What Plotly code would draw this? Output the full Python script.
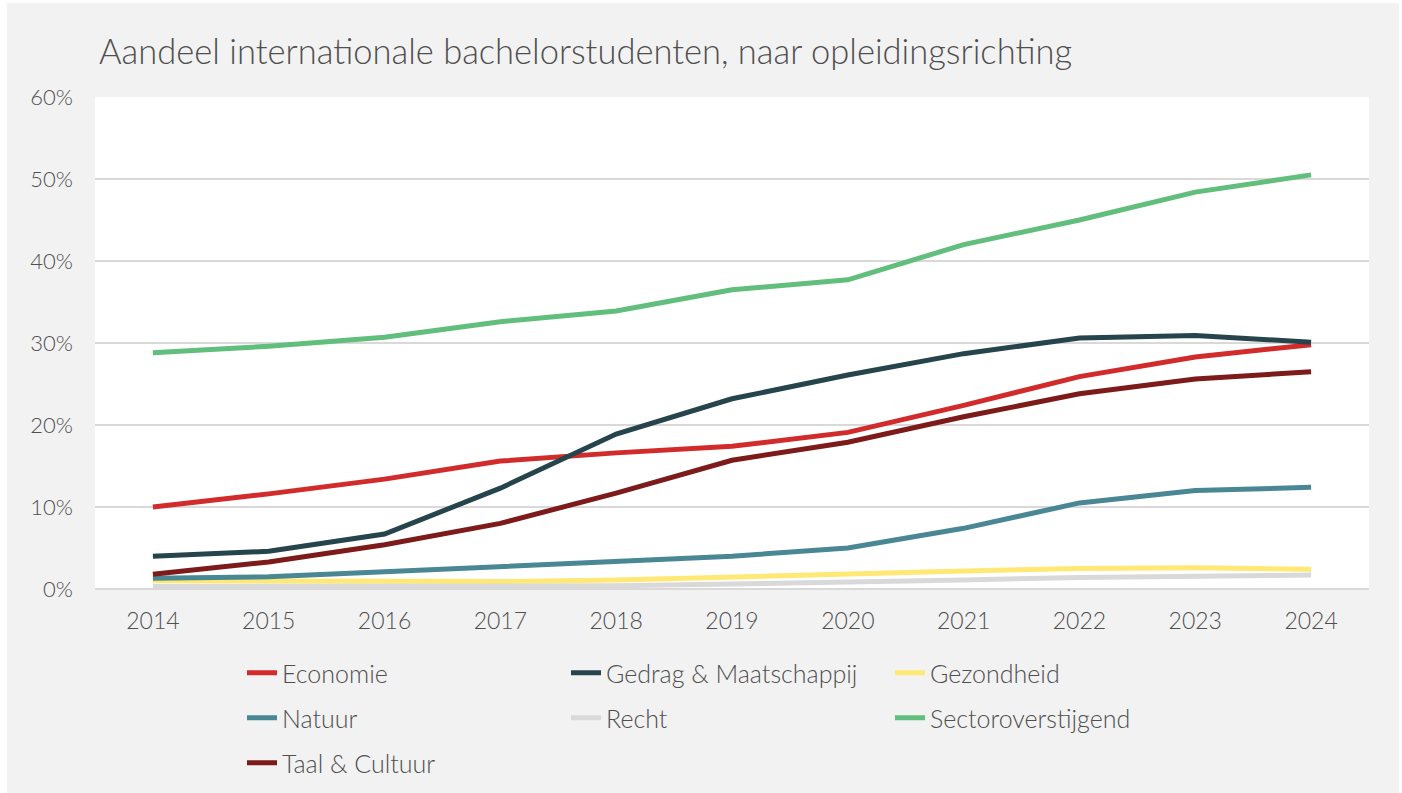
import plotly.graph_objects as go

years = [2014, 2015, 2016, 2017, 2018, 2019, 2020, 2021, 2022, 2023, 2024]

economie = [10.0, 11.6, 13.4, 15.6, 16.6, 17.4, 19.1, 22.4, 25.9, 28.3, 29.8]
gedrag = [4.0, 4.6, 6.7, 12.3, 18.9, 23.2, 26.1, 28.7, 30.6, 30.9, 30.1]
gezondheid = [1.0, 1.0, 0.9, 0.9, 1.1, 1.5, 1.9, 2.2, 2.5, 2.6, 2.4]
natuur = [1.3, 1.5, 2.1, 2.7, 3.3, 4.0, 5.0, 7.4, 10.5, 12.0, 12.4]
recht = [0.3, 0.3, 0.3, 0.3, 0.4, 0.6, 0.8, 1.1, 1.4, 1.6, 1.7]
sector = [28.8, 29.6, 30.7, 32.6, 33.9, 36.5, 37.7, 42.0, 45.0, 48.4, 50.5]
taal = [1.8, 3.3, 5.4, 8.0, 11.7, 15.7, 17.9, 21.0, 23.8, 25.6, 26.5]

series = [
    ("Economie", economie, "#d22b2b", "legend"),
    ("Gedrag & Maatschappij", gedrag, "#25444b", "legend"),
    ("Gezondheid", gezondheid, "#ffe873", "legend"),
    ("Natuur", natuur, "#4a8794", "legend2"),
    ("Recht", recht, "#d9d9d9", "legend2"),
    ("Sectoroverstijgend", sector, "#61be7c", "legend2"),
    ("Taal & Cultuur", taal, "#7d1a1a", "legend3"),
]

FONT = "Lato"
TXT = "#4f4f4f"
WT = 300

fig = go.Figure()
for name, vals, color, lg in series:
    fig.add_trace(go.Scatter(
        x=years, y=vals, name=name, mode="lines",
        line=dict(color=color, width=5),
        legend=lg,
    ))

W, H = 1402, 793
L, R, T, B = 95, 33, 97, 204
pw = W - L - R
ph = H - T - B

def px2x(px):
    return (px - L) / pw

def py2y(py):
    return (H - B - py) / ph

leg_common = dict(
    orientation="h", xanchor="left", yanchor="middle",
    font=dict(family=FONT, size=25, color=TXT, weight=WT),
    bgcolor="rgba(0,0,0,0)", entrywidth=279, entrywidthmode="pixels",
    traceorder="normal",
)

fig.update_layout(
    width=W, height=H,
    margin=dict(l=L, r=R, t=T, b=B, autoexpand=False),
    paper_bgcolor="#f2f2f2",
    plot_bgcolor="#ffffff",
    title=dict(
        text="Aandeel internationale bachelorstudenten, naar opleidingsrichting",
        x=99 / W, xref="container", xanchor="left",
        y=1 - 52 / H, yref="container", yanchor="middle",
        font=dict(family=FONT, size=34.5, color=TXT, weight=WT),
    ),
    legend=dict(x=px2x(242), y=py2y(673), **leg_common),
    legend2=dict(x=px2x(242), y=py2y(718), **leg_common),
    legend3=dict(x=px2x(242), y=py2y(763), **leg_common),
    xaxis=dict(
        range=[2013.5, 2024.5], tickmode="array", tickvals=years,
        ticktext=[str(y) for y in years],
        showgrid=False, zeroline=False, showline=False, ticks="",
        tickfont=dict(family=FONT, size=23, color=TXT, weight=WT),
        ticklabelstandoff=16,
    ),
    yaxis=dict(
        range=[0, 60], dtick=10, ticksuffix="%",
        showgrid=True, gridcolor="#d9d9d9", gridwidth=2,
        zeroline=True, zerolinecolor="#d9d9d9", zerolinewidth=2,
        showline=False, ticks="",
        tickfont=dict(family=FONT, size=22, color=TXT, weight=WT),
        ticklabelstandoff=21,
    ),
    shapes=[
        dict(type="rect", xref="paper", yref="paper", x0=px2x(0), x1=px2x(7),
             y0=py2y(H), y1=py2y(0), fillcolor="#ffffff", line=dict(width=0)),
        dict(type="rect", xref="paper", yref="paper", x0=px2x(1399), x1=px2x(W),
             y0=py2y(H), y1=py2y(0), fillcolor="#ffffff", line=dict(width=0)),
        dict(type="rect", xref="paper", yref="paper", x0=px2x(0), x1=px2x(W),
             y0=py2y(3), y1=py2y(0), fillcolor="#ffffff", line=dict(width=0)),
    ],
)

fig.write_html(
    "out.html",
    config={"displayModeBar": False},
    post_script="document.body.style.margin='0';document.body.style.overflow='hidden';",
)
